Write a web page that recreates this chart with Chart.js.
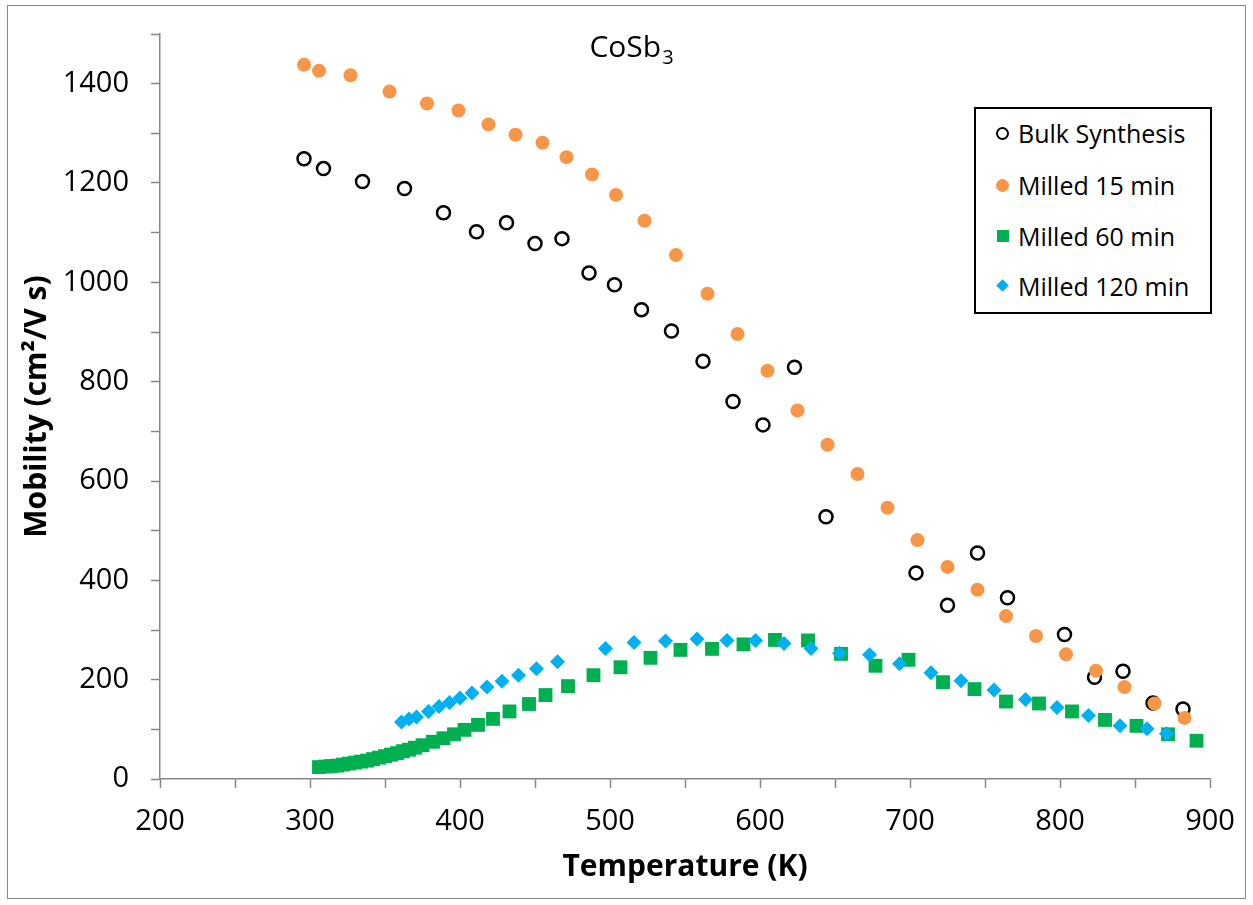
<!DOCTYPE html>
<html>
<head>
<meta charset="utf-8">
<script src="https://cdn.jsdelivr.net/npm/chart.js@4.4.1/dist/chart.umd.min.js"></script>
<style>
  body { margin: 0; background: #fff; font-family: "Open Sans", sans-serif; }
  #wrap { position: relative; width: 1253px; height: 905px; }
  #legend {
    position: absolute; left: 974px; top: 107px; width: 234px; height: 203px;
    border: 2px solid #000; background: #fff;
  }
  .item { position: absolute; left: 0; height: 30px; width: 234px; }
  .item span { position: absolute; left: 42px; top: 0; line-height: 30px; font-size: 25px; color: #000; white-space: nowrap; }
  .mk { position: absolute; box-sizing: border-box; }
  .mk.open { left: 20px; top: 9px; width: 13px; height: 13px; border: 2.5px solid #000; border-radius: 50%; }
  .mk.dot { left: 20px; top: 9px; width: 13px; height: 13px; background: #F79646; border-radius: 50%; }
  .mk.sq { left: 21px; top: 9px; width: 12px; height: 12px; background: #00B050; }
  .mk.dia { left: 22px; top: 10px; width: 9px; height: 9px; background: #00B0F0; transform: rotate(45deg); }
</style>
</head>
<body>
<div id="wrap">
  <canvas id="mobilityChart" width="1253" height="905"></canvas>
  <div id="legend">
    <div class="item" style="top:9px"><div class="mk open"></div><span>Bulk Synthesis</span></div>
    <div class="item" style="top:61px"><div class="mk dot"></div><span>Milled 15 min</span></div>
    <div class="item" style="top:112px"><div class="mk sq"></div><span>Milled 60 min</span></div>
    <div class="item" style="top:162px"><div class="mk dia"></div><span>Milled 120 min</span></div>
  </div>
</div>
<script>
// Movilidad de portadores en CoSb3 frente a temperatura
const bulkT = [296, 309, 335, 363, 389, 411, 431, 450, 468, 486, 503, 521, 541, 562, 582, 602, 623, 644, 704, 725, 745, 765, 803, 823, 842, 862, 882];
const bulkMu = [1249, 1229, 1203, 1189, 1140, 1102, 1120, 1078, 1088, 1019, 995, 945, 902, 841, 760, 713, 829, 528, 415, 350, 455, 365, 291, 205, 217, 153, 141];

const milled15T = [296, 306, 327, 353, 378, 399, 419, 437, 455, 471, 488, 504, 523, 544, 565, 585, 605, 625, 645, 665, 685, 705, 725, 745, 764, 784, 804, 824, 843, 863, 883];
const milled15Mu = [1438, 1426, 1417, 1384, 1360, 1346, 1318, 1297, 1281, 1252, 1217, 1176, 1124, 1055, 977, 896, 822, 742, 673, 614, 546, 481, 427, 381, 328, 288, 251, 218, 185, 152, 123];

const milled60T = [306, 310, 314, 318, 322, 326, 330, 334, 338, 342, 346, 350, 354, 358, 362, 366, 370, 375, 382, 389, 396, 403, 412, 422, 433, 446, 457, 472, 489, 507, 527, 547, 568, 589, 610, 632, 654, 677, 699, 722, 743, 764, 786, 808, 830, 851, 872, 891];
const milled60Mu = [24, 25, 26, 27, 29, 31, 33, 35, 37, 40, 43, 46, 49, 52, 56, 59, 63, 68, 75, 82, 90, 99, 109, 121, 136, 151, 169, 187, 209, 225, 244, 260, 262, 271, 280, 279, 252, 228, 240, 195, 181, 156, 152, 136, 119, 107, 90, 77];

const milled120T = [361, 366, 371, 379, 386, 393, 400, 408, 418, 428, 439, 451, 465, 497, 516, 537, 558, 578, 597, 616, 634, 653, 673, 693, 714, 734, 756, 777, 798, 819, 840, 858, 871];
const milled120Mu = [115, 121, 125, 136, 146, 154, 163, 173, 185, 197, 209, 222, 236, 263, 275, 278, 282, 279, 279, 273, 263, 253, 250, 232, 214, 198, 179, 160, 144, 128, 107, 101, 91];

// Marcas de los ejes (las etiquetas solo cada 100 K y cada 200)
const xTicks = [200, 250, 300, 350, 400, 450, 500, 550, 600, 650, 700, 750, 800, 850, 900];
const yTicks = [0, 100, 200, 300, 400, 500, 600, 700, 800, 900, 1000, 1100, 1200, 1300, 1400, 1500];

function toPoints(xs, ys) {
    return xs.map((x, i) => ({ x: x, y: ys[i] }));
}

const axisGray = '#868686';

// Marco exterior y título con subíndice
const framePlugin = {
    id: 'frame',
    afterDraw(chart) {
        const c = chart.ctx;
        c.save();
        c.strokeStyle = '#898989';
        c.lineWidth = 1;
        c.strokeRect(7.5, 5.5, 1238, 893);
        c.fillStyle = '#000';
        c.textBaseline = 'alphabetic';
        c.font = '30px "Open Sans", sans-serif';
        const main = 'CoSb';
        const w1 = c.measureText(main).width;
        c.font = '20px "Open Sans", sans-serif';
        const w2 = c.measureText('3').width;
        const x0 = 631 - (w1 + w2) / 2;
        c.font = '30px "Open Sans", sans-serif';
        c.fillText(main, x0, 57);
        c.font = '20px "Open Sans", sans-serif';
        c.fillText('3', x0 + w1 + 1, 64);
        c.restore();
    }
};

Chart.defaults.font.family = '"Open Sans", sans-serif';
Chart.defaults.color = '#000';

new Chart(document.getElementById('mobilityChart'), {
    type: 'scatter',
    data: {
        datasets: [
            {
                label: 'Bulk Synthesis',
                data: toPoints(bulkT, bulkMu),
                pointStyle: 'circle',
                pointRadius: 6.5,
                borderWidth: 2.5,
                borderColor: '#000000',
                backgroundColor: 'rgba(0,0,0,0)',
                order: 4
            },
            {
                label: 'Milled 15 min',
                data: toPoints(milled15T, milled15Mu),
                pointStyle: 'circle',
                pointRadius: 7,
                borderWidth: 0,
                backgroundColor: '#F79646',
                order: 3
            },
            {
                label: 'Milled 60 min',
                data: toPoints(milled60T, milled60Mu),
                pointStyle: 'rect',
                pointRadius: 9.8,
                borderWidth: 0,
                backgroundColor: '#00B050',
                order: 2
            },
            {
                label: 'Milled 120 min',
                data: toPoints(milled120T, milled120Mu),
                pointStyle: 'rectRot',
                pointRadius: 7.5,
                borderWidth: 0,
                backgroundColor: '#00B0F0',
                order: 1
            }
        ]
    },
    options: {
        responsive: false,
        animation: false,
        layout: {
            padding: { left: 0, right: 43, top: 34, bottom: 0 }
        },
        plugins: {
            legend: { display: false },
            tooltip: { enabled: false }
        },
        scales: {
            x: {
                type: 'linear',
                min: 200,
                max: 900,
                afterBuildTicks: (scale) => { scale.ticks = xTicks.map(v => ({ value: v })); },
                afterFit: (scale) => { scale.height = 126; },
                border: { display: true, color: axisGray, width: 1.5 },
                grid: { drawOnChartArea: false, drawTicks: true, tickLength: 9, tickColor: axisGray, tickWidth: 1.5 },
                ticks: {
                    autoSkip: false,
                    maxRotation: 0,
                    padding: 16,
                    font: { size: 29 },
                    callback: (v) => (v % 100 === 0 ? String(v) : '')
                },
                title: {
                    display: true,
                    text: 'Temperature (K)',
                    font: { size: 30, weight: 'bold' },
                    padding: { top: 0, bottom: 20 }
                }
            },
            y: {
                type: 'linear',
                min: 0,
                max: 1500,
                afterBuildTicks: (scale) => { scale.ticks = yTicks.map(v => ({ value: v })); },
                afterFit: (scale) => { scale.width = 160; },
                border: { display: true, color: axisGray, width: 1.5 },
                grid: { drawOnChartArea: false, drawTicks: true, tickLength: 9, tickColor: axisGray, tickWidth: 1.5 },
                ticks: {
                    autoSkip: false,
                    padding: 22,
                    font: { size: 29, lineHeight: 0.6 },
                    callback: (v) => (v % 200 === 0 ? String(v) : '')
                },
                title: {
                    display: true,
                    text: 'Mobility (cm²/V s)',
                    font: { size: 30, weight: 'bold' },
                    padding: { top: 19, bottom: 0 }
                }
            }
        }
    },
    plugins: [framePlugin]
});
</script>
</body>
</html>
